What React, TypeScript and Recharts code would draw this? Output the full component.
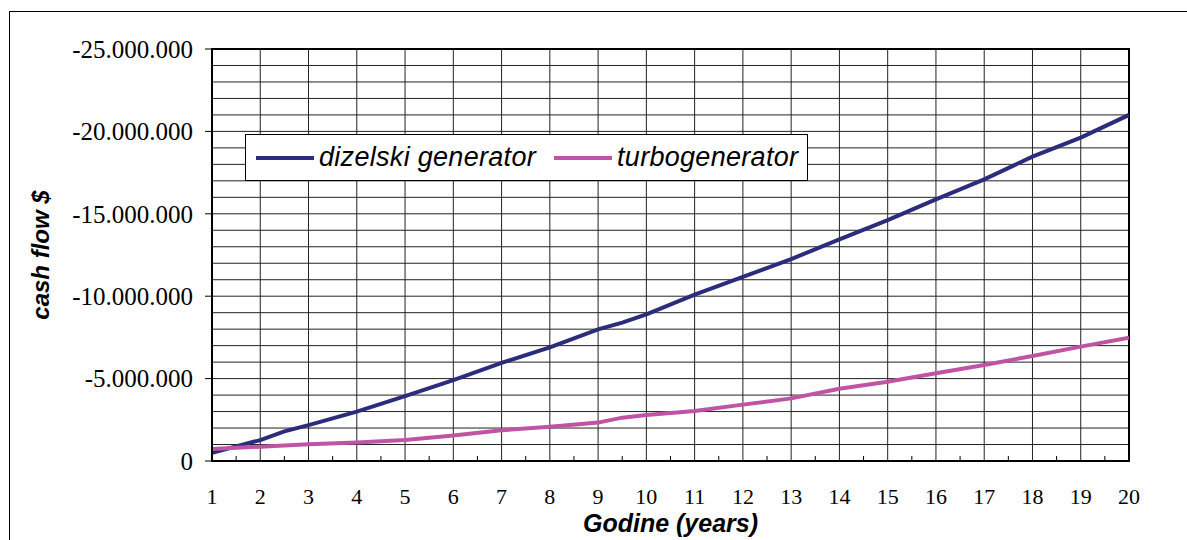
import {
  LineChart,
  Line,
  XAxis,
  YAxis,
  CartesianGrid,
  Legend,
  ReferenceArea,
} from "recharts";

// godine (years) on the axis
const years = [1, 2, 3, 4, 5, 6, 7, 8, 9, 10, 11, 12, 13, 14, 15, 16, 17, 18, 19, 20];
const yTicks = [0, -5000000, -10000000, -15000000, -20000000, -25000000];

// dizelski generator, cash flow $
const dieselYears = [1, 2, 2.5, 3, 4, 5, 6, 7, 8, 9, 9.5, 10, 11, 12, 13, 14, 15, 16, 17, 18, 19, 20];
const dieselCash = [
  -500000, -1270000, -1800000, -2180000, -3000000, -3940000, -4910000, -5950000, -6900000,
  -7990000, -8400000, -8900000, -10100000, -11180000, -12250000, -13450000, -14620000,
  -15880000, -17090000, -18470000, -19620000, -21000000,
];

// turbogenerator, cash flow $
const turboYears = [1, 2, 3, 4, 5, 6, 7, 8, 9, 9.5, 10, 11, 12, 13, 14, 15, 16, 17, 18, 19, 20];
const turboCash = [
  -730000, -870000, -1010000, -1130000, -1270000, -1550000, -1860000, -2080000, -2330000,
  -2630000, -2790000, -3030000, -3420000, -3800000, -4380000, -4810000, -5320000, -5830000,
  -6370000, -6940000, -7480000,
];

const dieselData = dieselYears.map((year, i) => ({ year, v: dieselCash[i] }));
const turboData = turboYears.map((year, i) => ({ year, v: turboCash[i] }));

const xTicks = years.flatMap((y) => (y < 20 ? [y, y + 0.5] : [y]));
const hGrid = Array.from({ length: 26 }, (_, i) => -i * 1000000);

const DIESEL = "#2b2d7c";
const TURBO = "#c054a4";

function fmt(v: number) {
  if (v === 0) return "0";
  const s = Math.abs(v).toString().replace(/\B(?=(\d{3})+(?!\d))/g, ".");
  return (v < 0 ? "-" : "") + s;
}

function XTick(props: any) {
  const { x, y, payload } = props;
  const v = payload.value;
  if (!Number.isInteger(v)) {
    return <line x1={x} x2={x} y1={y} y2={y - 5} stroke="#000" strokeWidth={1} />;
  }
  return (
    <text
      x={x}
      y={y + 43}
      textAnchor="middle"
      fontFamily="'Liberation Serif', serif"
      fontSize={22}
      fill="#000"
    >
      {v}
    </text>
  );
}

function LegendBox() {
  const item = (color: string, label: string) => (
    <div style={{ display: "flex", alignItems: "center" }}>
      <div style={{ width: 58, height: 4, background: color, marginRight: 5 }} />
      <span>{label}</span>
    </div>
  );
  return (
    <div
      style={{
        width: 563,
        height: 47,
        boxSizing: "border-box",
        border: "1px solid #000",
        background: "#fff",
        display: "flex",
        alignItems: "center",
        paddingLeft: 10,
        gap: 18,
        fontFamily: "'Liberation Sans', Arial, sans-serif",
        fontStyle: "italic",
        fontSize: 27,
        letterSpacing: 0.3,
        color: "#000",
      }}
    >
      {item(DIESEL, "dizelski generator")}
      {item(TURBO, "turbogenerator")}
    </div>
  );
}

export default function App() {
  return (
    <div
      style={{
        position: "absolute",
        left: 0,
        top: 0,
        width: 1187,
        height: 540,
        overflow: "hidden",
        background: "#fff",
      }}
    >
      <div
        style={{
          position: "absolute",
          left: 9,
          top: 11,
          width: 1300,
          height: 700,
          borderLeft: "1.5px solid #000",
          borderTop: "1.5px solid #000",
        }}
      />
      <div style={{ position: "absolute", left: 0, top: 0 }}>
        <LineChart
          width={1187}
          height={540}
          margin={{ top: 49, right: 58, bottom: 0, left: 0 }}
        >
          <CartesianGrid
            horizontalValues={hGrid}
            verticalValues={years}
            stroke="#222"
            strokeWidth={1}
          />
          <XAxis
            dataKey="year"
            type="number"
            domain={[1, 20]}
            ticks={xTicks}
            interval={0}
            tick={<XTick />}
            tickLine={false}
            tickSize={0}
            tickMargin={0}
            axisLine={{ stroke: "#000", strokeWidth: 2 }}
            height={79}
            allowDataOverflow
            label={{
              value: "Godine (years)",
              position: "insideBottom",
              offset: 8,
              style: {
                fontFamily: "'Liberation Sans', Arial, sans-serif",
                fontWeight: "bold",
                fontStyle: "italic",
                fontSize: 25,
                fill: "#000",
              },
            }}
          />
          <YAxis
            type="number"
            domain={[-25000000, 0]}
            reversed
            ticks={yTicks}
            interval={0}
            tickFormatter={fmt}
            tick={{ fontFamily: "'Liberation Serif', serif", fontSize: 25, fill: "#000" }}
            tickLine={{ stroke: "#000" }}
            tickSize={7}
            tickMargin={12}
            axisLine={{ stroke: "#000", strokeWidth: 2 }}
            width={212}
            allowDataOverflow
            label={{
              content: (p: any) => {
                const vb = p.viewBox;
                const cx = vb.x + 40;
                const cy = vb.y + vb.height / 2;
                return (
                  <text
                    x={cx}
                    y={cy}
                    transform={`rotate(-90 ${cx} ${cy})`}
                    textAnchor="middle"
                    dominantBaseline="central"
                    fontFamily="'Liberation Sans', Arial, sans-serif"
                    fontWeight="bold"
                    fontStyle="italic"
                    fontSize={24}
                    fill="#000"
                  >
                    cash flow $
                  </text>
                );
              },
            }}
          />
          <ReferenceArea
            x1={1}
            x2={20}
            y1={0}
            y2={-25000000}
            fill="none"
            stroke="#000"
            strokeWidth={2}
            strokeOpacity={1}
            ifOverflow="visible"
          />
          <Line
            data={dieselData}
            dataKey="v"
            type="linear"
            stroke={DIESEL}
            strokeWidth={4}
            dot={false}
            isAnimationActive={false}
          />
          <Line
            data={turboData}
            dataKey="v"
            type="linear"
            stroke={TURBO}
            strokeWidth={4}
            dot={false}
            isAnimationActive={false}
          />
          <Legend
            layout="horizontal"
            verticalAlign="middle"
            content={<LegendBox />}
            wrapperStyle={{ left: 245, top: 134, width: 563, height: 47 }}
          />
        </LineChart>
      </div>
    </div>
  );
}
